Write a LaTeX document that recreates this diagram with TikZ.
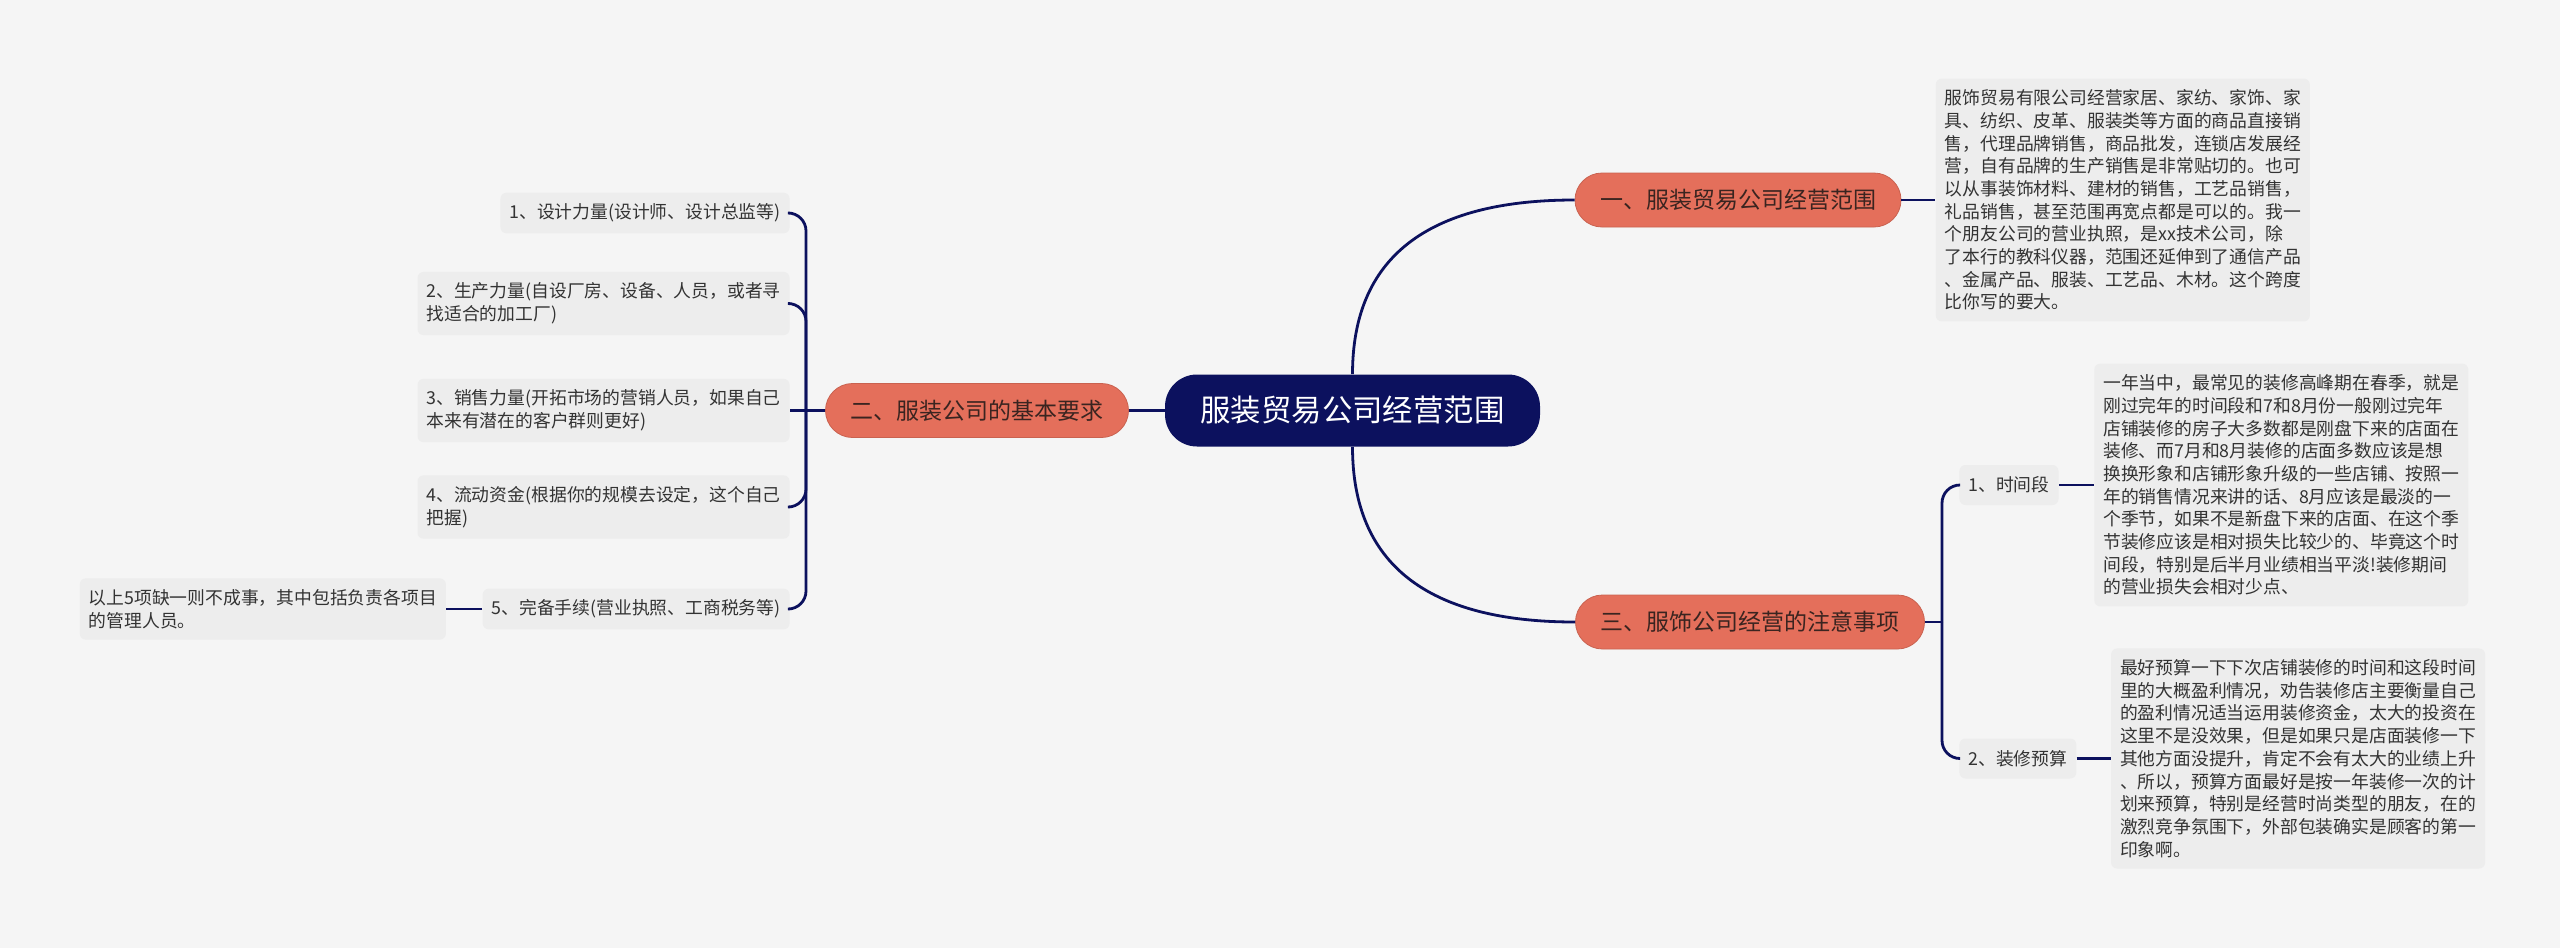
\documentclass[tikz,border=0pt]{standalone}
\usepackage{fontspec}
\setmainfont{Noto Sans CJK SC}
\usetikzlibrary{positioning, calc}
\definecolor{navy1}{RGB}{12, 17, 94}
\definecolor{branchorange}{RGB}{228, 111, 91}
\definecolor{textbrown}{RGB}{58, 36, 32}
\definecolor{leafgray}{RGB}{237, 237, 237}
\definecolor{bggray}{RGB}{245, 245, 245}
\definecolor{textgray}{RGB}{51, 51, 51}
\tikzset{
  rootbox/.style={fill=navy1, rounded corners=16pt, text=white, font=\fontsize{15.2}{18}\selectfont, minimum height=36pt, inner xsep=17.75pt},
  branchbox/.style={fill=branchorange, draw=branchorange!88!black, line width=0.4pt, rounded corners=13.5pt, text=textbrown, font=\fontsize{11.5}{14}\selectfont, minimum height=27pt, inner xsep=12.5pt},
  leafbox/.style={fill=leafgray, rounded corners=3pt, text=textgray, font=\fontsize{8.9}{11.35}\selectfont, align=left, inner xsep=4.5pt, inner ysep=5.5pt, minimum height=20pt},
  link/.style={draw=navy1, line width=1.4pt}
}

\begin{document}
\begin{tikzpicture}[x=0.5pt, y=-0.5pt]
      \fill[bggray] (0,0) rectangle (2560,948);
      \useasboundingbox (0,0) rectangle (2560,948);
      \node[rootbox] (root) at (1352.5,410.5) {服装贸易公司经营范围};
      \node[branchbox] (b1) at (1738,200) {一、服装贸易公司经营范围};
      \node[branchbox] (b2) at (977,410.5) {二、服装公司的基本要求};
      \node[branchbox] (b3) at (1750,622) {三、服饰公司经营的注意事项};
      \node[leafbox, right=17pt of b1] (d1) {服饰贸易有限公司经营家居、家纺、家饰、家\\具、纺织、皮革、服装类等方面的商品直接销\\售，代理品牌销售，商品批发，连锁店发展经\\营，自有品牌的生产销售是非常贴切的。也可\\以从事装饰材料、建材的销售，工艺品销售，\\礼品销售，甚至范围再宽点都是可以的。我一\\个朋友公司的营业执照，是xx技术公司，除\\了本行的教科仪器，范围还延伸到了通信产品\\、金属产品、服装、工艺品、木材。这个跨度\\比你写的要大。};
      \node[leafbox, anchor=west] (t1) at (1959,485) {1、时间段};
      \node[leafbox, anchor=west] (t2) at (1959,758.5) {2、装修预算};
      \node[leafbox, right=17.5pt of t1] (d2) {一年当中，最常见的装修高峰期在春季，就是\\刚过完年的时间段和7和8月份一般刚过完年\\店铺装修的房子大多数都是刚盘下来的店面在\\装修、而7月和8月装修的店面多数应该是想\\换换形象和店铺形象升级的一些店铺、按照一\\年的销售情况来讲的话、8月应该是最淡的一\\个季节，如果不是新盘下来的店面、在这个季\\节装修应该是相对损失比较少的、毕竟这个时\\间段，特别是后半月业绩相当平淡!装修期间\\的营业损失会相对少点、};
      \node[leafbox, right=17pt of t2] (d3) {最好预算一下下次店铺装修的时间和这段时间\\里的大概盈利情况，劝告装修店主要衡量自己\\的盈利情况适当运用装修资金，太大的投资在\\这里不是没效果，但是如果只是店面装修一下\\其他方面没提升，肯定不会有太大的业绩上升\\、所以，预算方面最好是按一年装修一次的计\\划来预算，特别是经营时尚类型的朋友，在的\\激烈竞争氛围下，外部包装确实是顾客的第一\\印象啊。};
      \node[leafbox, anchor=east] (l1) at (790,213) {1、设计力量(设计师、设计总监等)};
      \node[leafbox, anchor=east] (l2) at (790,303.5) {2、生产力量(自设厂房、设备、人员，或者寻\\找适合的加工厂)};
      \node[leafbox, anchor=east] (l3) at (790,410.5) {3、销售力量(开拓市场的营销人员，如果自己\\本来有潜在的客户群则更好)};
      \node[leafbox, anchor=east] (l4) at (790,507) {4、流动资金(根据你的规模去设定，这个自己\\把握)};
      \node[leafbox, anchor=east] (l5) at (790,609) {5、完备手续(营业执照、工商税务等)};
      \node[leafbox, left=18pt of l5] (l5a) {以上5项缺一则不成事，其中包括负责各项目\\的管理人员。};
      \coordinate (jl) at (806,410.5);
      \coordinate (jr) at (1942,622);
      \draw[link] (root.north) .. controls ($(root.north)!2/3!(root.north |- b1.west)$) and ($(b1.west)!2/3!(root.north |- b1.west)$) .. (b1.west);
      \draw[link] (root.south) .. controls ($(root.south)!2/3!(root.south |- b3.west)$) and ($(b3.west)!2/3!(root.south |- b3.west)$) .. (b3.west);
      \draw[link] (root.west) -- (b2.east);
      \draw[link] (b1.east) -- (b1.east -| d1.west);
      \draw[link] (b2.west) -- (jl);
      \draw[link] (b3.east) -- (jr);
      \draw[link, rounded corners=9pt] (jr) |- (t1.west);
      \draw[link, rounded corners=9pt] (jr) |- (t2.west);
      \draw[link] (t1.east) -- (t1.east -| d2.west);
      \draw[link] (t2.east) -- (t2.east -| d3.west);
      \foreach \leaf in {l1, l2, l4, l5}
        \draw[link, rounded corners=9pt] (jl) |- (\leaf.east);
      \draw[link] (jl) -- (l3.east);
      \draw[link] (l5.west) -- (l5a.east);
    \end{tikzpicture}
\end{document}
